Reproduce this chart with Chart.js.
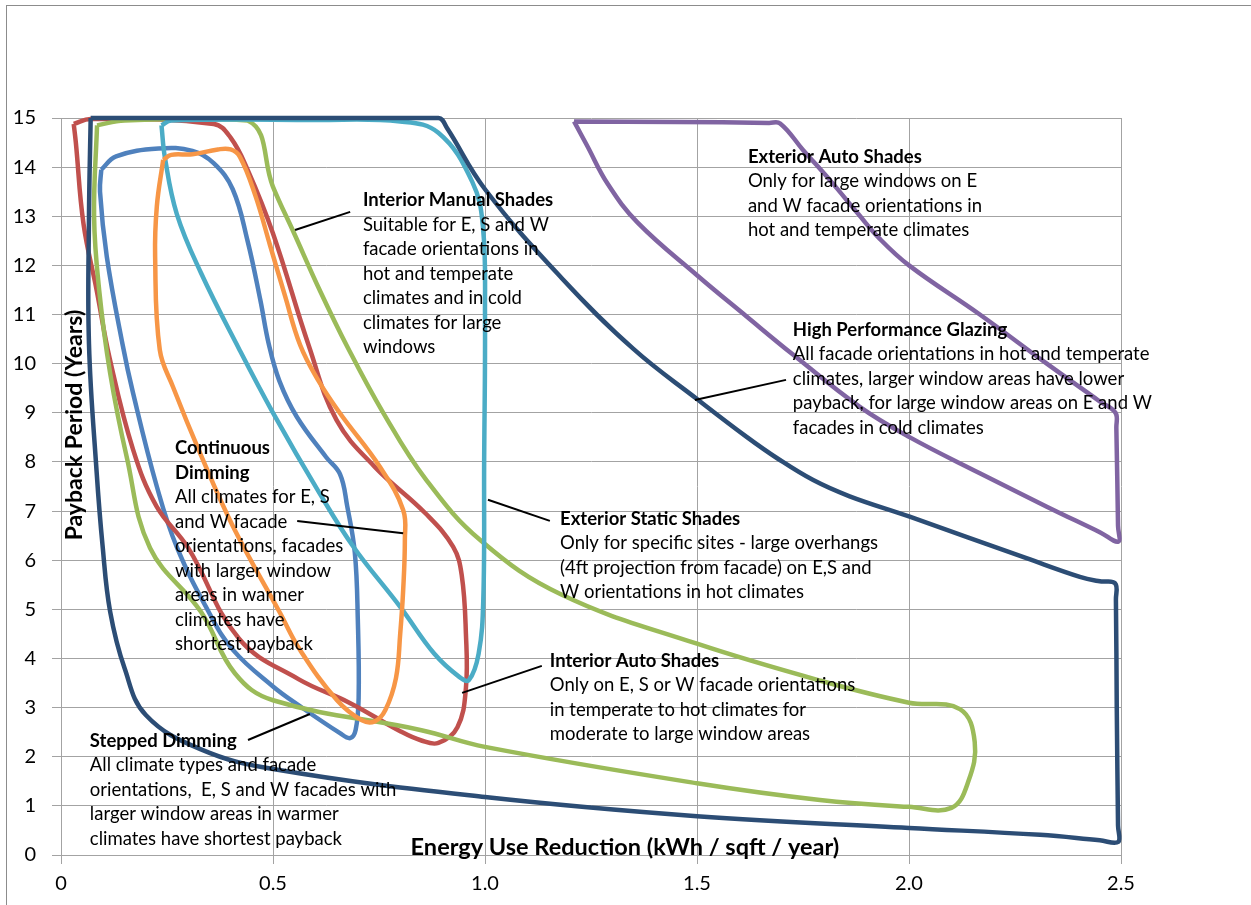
<!DOCTYPE html>
<html>
<head>
<meta charset="utf-8">
<script src="https://cdn.jsdelivr.net/npm/chart.js@4.4.1/dist/chart.umd.min.js"></script>
<style>
  html, body { margin: 0; padding: 0; background: #fff; }
  #wrap { position: relative; width: 1251px; height: 905px; overflow: hidden; }
  #frame { position: absolute; left: 6px; top: 5px; right: -2px; bottom: -2px;
           border-left: 1px solid #8c8c8c; border-top: 1px solid #8c8c8c; }
  canvas { position: absolute; left: 0; top: 0; }
</style>
</head>
<body>
<div id="wrap">
  <div id="frame"></div>
  <canvas id="chart" width="1251" height="905"></canvas>
</div>
<script>
// Axis ticks
const xTicks = [0, 0.5, 1, 1.5, 2, 2.5];
const yTicks = [0, 1, 2, 3, 4, 5, 6, 7, 8, 9, 10, 11, 12, 13, 14, 15];

// Outline of each measure (energy reduction vs payback), traced clockwise
const glazingX = [0.07, 0.5, 0.89, 0.91, 1.0, 1.18, 1.35, 1.5, 1.617, 1.69, 1.774, 1.86, 2.0, 2.277, 2.403, 2.45, 2.486, 2.488, 2.49, 2.493, 2.494, 2.45, 2.309, 2.0, 1.5, 1.0, 0.5, 0.33, 0.2, 0.15, 0.116, 0.098, 0.084, 0.066, 0.066, 0.07];
const glazingY = [15, 15, 15, 14.8, 13.55, 11.75, 10.3, 9.28, 8.51, 8.07, 7.63, 7.3, 6.89, 6.04, 5.66, 5.57, 5.53, 5.2, 3.0, 0.6, 0.27, 0.3, 0.41, 0.55, 0.79, 1.18, 1.75, 2.15, 2.85, 3.8, 4.95, 6.3, 7.8, 10.4, 13.0, 15];

const dimContX = [0.241, 0.26, 0.31, 0.37, 0.4, 0.422, 0.458, 0.493, 0.528, 0.564, 0.606, 0.658, 0.752, 0.807, 0.811, 0.807, 0.8, 0.79, 0.765, 0.74, 0.71, 0.651, 0.564, 0.517, 0.406, 0.328, 0.264, 0.233, 0.222, 0.226, 0.241];
const dimContY = [14.15, 14.25, 14.26, 14.36, 14.36, 14.21, 13.43, 12.41, 11.39, 10.38, 9.67, 8.99, 7.9, 7.02, 6.41, 5.39, 4.5, 3.6, 2.95, 2.72, 2.74, 3.15, 4.17, 4.92, 6.68, 8.18, 9.53, 10.28, 12.18, 13.2, 14.15];

const extStaticX = [0.237, 0.26, 0.6, 0.8, 0.89, 0.97, 0.995, 1.0, 0.998, 0.996, 0.985, 0.962, 0.94, 0.88, 0.8, 0.69, 0.61, 0.5, 0.42, 0.33, 0.273, 0.245, 0.237];
const extStaticY = [14.85, 14.95, 14.96, 14.93, 14.7, 13.7, 12.8, 11.0, 8.0, 5.2, 4.1, 3.56, 3.62, 4.1, 5.05, 6.27, 7.36, 9.0, 10.3, 11.85, 13.05, 14.2, 14.85];

const extAutoX = [1.21, 1.45, 1.67, 1.696, 1.75, 1.815, 1.88, 1.93, 2.0, 2.167, 2.325, 2.45, 2.487, 2.489, 2.493, 2.494, 2.45, 2.325, 2.167, 2.0, 1.884, 1.727, 1.617, 1.5, 1.36, 1.29, 1.24, 1.21];
const extAutoY = [14.93, 14.92, 14.9, 14.89, 14.35, 13.72, 13.05, 12.55, 12.0, 11.0, 10.0, 9.23, 9.0, 8.7, 6.7, 6.38, 6.57, 7.09, 7.77, 8.51, 9.12, 10.18, 10.96, 11.8, 12.87, 13.65, 14.45, 14.93];

const intManualX = [0.085, 0.15, 0.44, 0.5, 0.55, 0.61, 0.675, 0.76, 0.86, 0.99, 1.18, 1.5, 1.79, 2.0, 2.12, 2.155, 2.14, 2.1, 2.0, 1.79, 1.5, 1.0, 0.85, 0.5, 0.41, 0.33, 0.21, 0.155, 0.116, 0.09, 0.078, 0.085];
const intManualY = [14.85, 14.95, 14.95, 13.6, 12.65, 11.5, 10.35, 9.0, 7.65, 6.4, 5.3, 4.3, 3.55, 3.1, 2.97, 2.3, 1.5, 0.96, 0.98, 1.12, 1.46, 2.2, 2.54, 3.15, 3.7, 4.95, 6.25, 8.1, 9.8, 11.5, 13.0, 14.85];

const intAutoX = [0.03, 0.07, 0.36, 0.4, 0.44, 0.5, 0.585, 0.65, 0.74, 0.86, 0.925, 0.945, 0.955, 0.955, 0.935, 0.89, 0.85, 0.8, 0.68, 0.56, 0.42, 0.3, 0.225, 0.17, 0.115, 0.084, 0.053, 0.035, 0.03];
const intAutoY = [14.88, 14.98, 14.88, 14.6, 13.95, 12.65, 10.35, 8.85, 7.9, 6.95, 6.27, 5.7, 4.5, 3.4, 2.6, 2.28, 2.33, 2.52, 3.1, 3.58, 4.4, 6.25, 7.1, 8.25, 10.1, 11.5, 12.85, 14.5, 14.88];

const dimStepX = [0.095, 0.13, 0.23, 0.31, 0.36, 0.405, 0.44, 0.47, 0.49, 0.515, 0.556, 0.625, 0.658, 0.675, 0.693, 0.7, 0.702, 0.695, 0.682, 0.658, 0.565, 0.5, 0.406, 0.35, 0.273, 0.226, 0.17, 0.145, 0.108, 0.092, 0.095];
const dimStepY = [13.95, 14.22, 14.38, 14.33, 14.08, 13.55, 12.5, 11.3, 10.4, 9.65, 8.92, 8.1, 7.75, 7.1, 6.15, 4.8, 3.2, 2.55, 2.38, 2.48, 3.02, 3.43, 4.17, 4.92, 6.27, 7.5, 9.4, 10.4, 12.18, 13.5, 13.95];

// Callout texts, anchored in data units (left edge, first line)
const notes = [
  { x: 0.712, y: 13.33, bold: 1, lines: ['Interior Manual Shades', 'Suitable for E, S and W', 'facade orientations in', 'hot and temperate', 'climates and in cold', 'climates for large', 'windows'],
    leader: [[0.552, 12.72], [0.682, 13.09]] },
  { x: 1.620, y: 14.21, bold: 1, lines: ['Exterior Auto Shades', 'Only for large windows on E', 'and W facade orientations in', 'hot and temperate climates'],
    leader: null },
  { x: 1.726, y: 10.69, bold: 1, lines: ['High Performance Glazing', 'All facade orientations in hot and temperate', 'climates, larger window areas have lower', 'payback, for large window areas on E and W', 'facades in cold climates'],
    leader: [[1.495, 9.26], [1.710, 9.67]] },
  { x: 0.269, y: 8.28, bold: 2, lines: ['Continuous', 'Dimming', 'All climates for E, S', 'and W facade', 'orientations, facades', 'with larger window', 'areas in warmer', 'climates have', 'shortest payback'],
    leader: [[0.557, 6.80], [0.807, 6.55]] },
  { x: 1.177, y: 6.84, bold: 1, lines: ['Exterior Static Shades', 'Only for specific sites - large overhangs', '(4ft projection from facade) on E,S and', 'W orientations in hot climates'],
    leader: [[1.007, 7.23], [1.153, 6.80]] },
  { x: 1.153, y: 3.95, bold: 1, lines: ['Interior Auto Shades', 'Only on E, S or W facade orientations', 'in temperate to hot climates for', 'moderate to large window areas'],
    leader: [[0.946, 3.30], [1.134, 3.85]] },
  { x: 0.068, y: 2.32, bold: 1, lines: ['Stepped Dimming', 'All climate types and facade', 'orientations,  E, S and W facades with', 'larger window areas in warmer', 'climates have shortest payback'],
    leader: [[0.441, 2.34], [0.587, 2.87]] }
];

const xTitle = 'Energy Use Reduction (kWh / sqft / year)';
const yTitle = 'Payback Period (Years)';

function toPoints(xs, ys) {
  return xs.map((x, i) => ({ x: x, y: ys[i] }));
}

function outline(label, xs, ys, color) {
  return {
    label: label,
    data: toPoints(xs, ys),
    showLine: true,
    borderColor: color,
    backgroundColor: color,
    borderWidth: 4.5,
    pointRadius: 0,
    tension: 0.4,
    fill: false,
    clip: 12
  };
}

// draws the callouts and the two axis titles over the plot
const notesPlugin = {
  id: 'notes',
  afterDatasetsDraw(chart) {
    const ctx = chart.ctx;
    const xs = chart.scales.x, ys = chart.scales.y;
    ctx.save();
    ctx.fillStyle = '#000';
    ctx.strokeStyle = '#000';
    ctx.lineWidth = 2;
    ctx.textBaseline = 'middle';
    ctx.textAlign = 'left';
    notes.forEach(n => {
      if (n.leader) {
        ctx.beginPath();
        ctx.moveTo(xs.getPixelForValue(n.leader[0][0]), ys.getPixelForValue(n.leader[0][1]));
        ctx.lineTo(xs.getPixelForValue(n.leader[1][0]), ys.getPixelForValue(n.leader[1][1]));
        ctx.stroke();
      }
      const px = xs.getPixelForValue(n.x);
      const py = ys.getPixelForValue(n.y);
      n.lines.forEach((t, i) => {
        ctx.font = (i < n.bold ? 'bold ' : '') + '18.5px Lato';
        ctx.fillText(t, px, py + i * 24.5);
      });
    });

    // axis titles sit inside the plot, as in the original
    ctx.textAlign = 'center';
    ctx.font = 'bold 23.5px Lato';
    ctx.fillText(xTitle, xs.getPixelForValue(1.33), ys.getPixelForValue(0.16));
    ctx.translate(xs.getPixelForValue(0.033), ys.getPixelForValue(8.75));
    ctx.rotate(-Math.PI / 2);
    ctx.font = 'bold 23px Lato';
    ctx.fillText(yTitle, 0, 0);
    ctx.restore();
  }
};

const gridColor = '#a3a3a3';

new Chart(document.getElementById('chart').getContext('2d'), {
  type: 'scatter',
  data: {
    datasets: [
      outline('High Performance Glazing', glazingX, glazingY, '#2C4D75'),
      outline('Continuous Dimming', dimContX, dimContY, '#F79646'),
      outline('Exterior Static Shades', extStaticX, extStaticY, '#4BACC6'),
      outline('Exterior Auto Shades', extAutoX, extAutoY, '#8064A2'),
      outline('Interior Manual Shades', intManualX, intManualY, '#9BBB59'),
      outline('Interior Auto Shades', intAutoX, intAutoY, '#C0504D'),
      outline('Stepped Dimming', dimStepX, dimStepY, '#4F81BD')
    ]
  },
  options: {
    responsive: false,
    animation: false,
    layout: { padding: { top: 118, right: 130, bottom: 0, left: 0 } },
    plugins: {
      legend: { display: false },
      tooltip: { enabled: false }
    },
    scales: {
      x: {
        type: 'linear',
        min: 0,
        max: 2.5,
        afterBuildTicks: s => { s.ticks = xTicks.map(v => ({ value: v })); },
        afterFit: s => { s.height = 50; },
        ticks: { color: '#000', font: { family: 'Lato', size: 20 }, padding: 8, maxRotation: 0 },
        grid: { color: gridColor, lineWidth: 1, tickLength: 9 },
        border: { color: gridColor }
      },
      y: {
        min: 0,
        max: 15,
        afterBuildTicks: s => { s.ticks = yTicks.map(v => ({ value: v })); },
        afterFit: s => { s.width = 61; },
        ticks: { color: '#000', font: { family: 'Lato', size: 20 }, padding: 16 },
        grid: { color: gridColor, lineWidth: 1, tickLength: 9 },
        border: { color: gridColor }
      }
    }
  },
  plugins: [notesPlugin]
});
</script>
</body>
</html>
